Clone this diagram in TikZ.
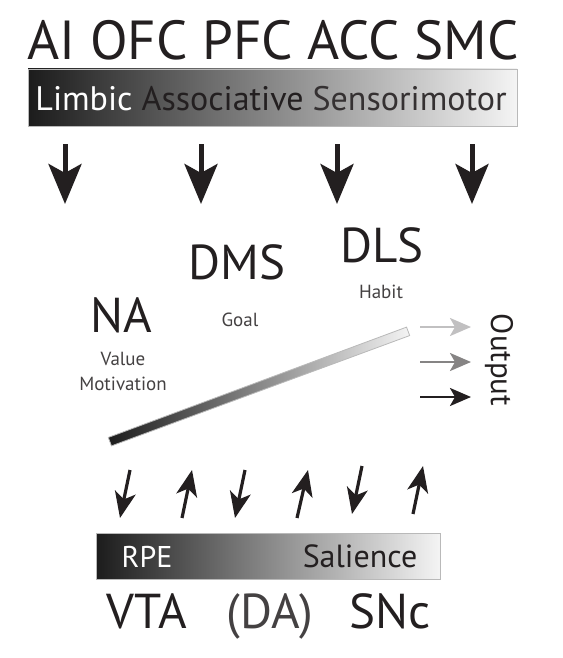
\documentclass[tikz,border=0pt]{standalone}
\usepackage{fontspec}
\setmainfont{PT Sans}
\usepackage{xcolor}
\usetikzlibrary{arrows.meta,calc,positioning}

\definecolor{ink}{HTML}{231F20}
\definecolor{barDark}{HTML}{1C1C1C}
\definecolor{barLight}{HTML}{F4F4F4}

\newcommand{\fs}[1]{\fontsize{#1}{#1}\selectfont}

\begin{document}
\begin{tikzpicture}[x=1pt,y=-1pt]
	\tikzstyle{every node} = [inner sep=0pt, text=ink]
	\tikzstyle{region} = [anchor=base, font=\fs{49}]
	\tikzstyle{role} = [anchor=base, font=\fs{19}, text=ink!85]
	\tikzstyle{gradbar} = [draw=gray!55, line width=0.8pt, left color=barDark, right color=barLight]
	\tikzstyle{bigarrow} = [draw=ink, line width=5pt, -{Stealth[length=40pt,width=33pt,inset=9pt]}]
	\tikzstyle{daarrow} = [draw=ink, line width=3.2pt, -{Stealth[length=26pt,width=21pt,inset=7pt]}]
	\tikzstyle{outarrow} = [line width=2.6pt, -{Stealth[length=21pt,width=18pt,inset=5pt]}]
\useasboundingbox (0,0) rectangle (562,658);

% cortex
\node[anchor=base, font=\fs{55}] (ctx) at (273,60) {AI OFC PFC ACC SMC};
\node[gradbar, minimum width=489pt, minimum height=57pt] (ctxbar) at (272.5,97.5) {};
\node[anchor=base, font=\fs{34}] (ctxlabel) at (271,111)
	{\textcolor{white}{Limbic} Associative \textcolor{ink!92}{Sensorimotor}};
\foreach \x [count=\i] in {65,201,337,472} {
	\coordinate (in\i) at (\x,144);
	\coordinate (st\i) at (\x,204);
	\path[draw][bigarrow] (in\i) -- (st\i);
}

% striatum
\node[region] (na) at (121,332) {NA};
\node[region] (dms) at (237,279) {DMS};
\node[region] (dls) at (382,262) {DLS};
\node[role] (value) at (123,365) {Value};
\node[role] (motiv) at (123,390) {Motivation};
\node[role] (goal) at (240,326) {Goal};
\node[role] (habit) at (381,298) {Habit};
\node[gradbar, rotate=20.3, minimum width=318pt, minimum height=9pt] (axis) at (259,386.5) {};

% output
\foreach \y/\c [count=\i] in {327/ink!28, 362/ink!55, 397/ink} {
	\coordinate (os\i) at (420,\y);
	\coordinate (oe\i) at (471,\y);
	\path[draw][outarrow, draw=\c, fill=\c] (os\i) -- (oe\i);
}
\node[rotate=-90, font=\fs{31}] (output) at (499,360) {Output};

% dopamine
\foreach \ax/\ay/\bx/\by [count=\i] in {130/470/120/518, 182/518/192/470, 245/470/235/518,
	297/518/308/470, 362/466/352/514, 413/514/423/466} {
	\coordinate (da\i) at (\ax,\ay);
	\coordinate (db\i) at (\bx,\by);
	\path[draw][daarrow] (da\i) -- (db\i);
}
\node[gradbar, minimum width=344pt, minimum height=46pt] (dabar) at (268,556) {};
\node[anchor=base, font=\fs{30}, text=white] (rpe) at (147,567) {RPE};
\node[anchor=base, font=\fs{32}] (sal) at (360,567) {Salience};
\node[region] (vta) at (147,628) {VTA};
\node[region, text=ink!85] (da) at (270,628) {(DA)};
\node[region] (snc) at (390,628) {SNc};
    \end{tikzpicture}
\end{document}
